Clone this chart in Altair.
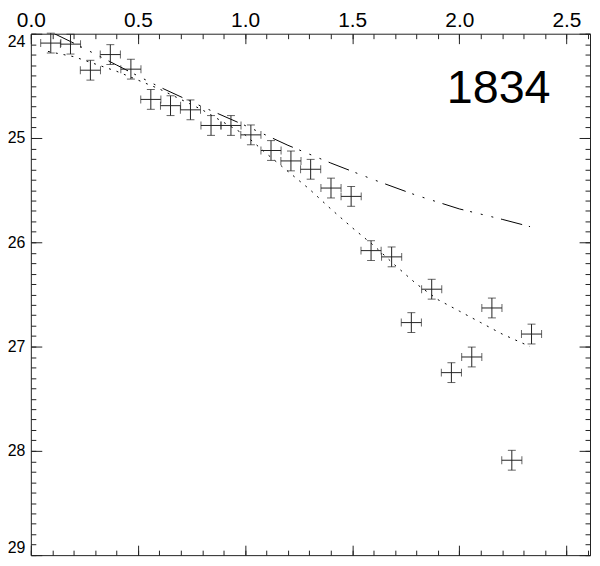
import altair as alt
import pandas as pd

# ---- data ----
radius = [0.093, 0.185, 0.278, 0.371, 0.467, 0.560, 0.652, 0.745, 0.841, 0.934,
          1.027, 1.121, 1.214, 1.306, 1.401, 1.495, 1.588, 1.684, 1.776, 1.871,
          1.963, 2.058, 2.152, 2.245, 2.337]
mag = [24.09, 24.10, 24.35, 24.20, 24.34, 24.63, 24.69, 24.73, 24.88, 24.88,
       24.97, 25.12, 25.22, 25.30, 25.48, 25.56, 26.08, 26.14, 26.77, 26.45,
       27.25, 27.10, 26.63, 28.09, 26.88]
r_err = [0.047, 0.047, 0.047, 0.047, 0.047, 0.047, 0.047, 0.047, 0.047, 0.047,
         0.047, 0.047, 0.047, 0.047, 0.047, 0.047, 0.047, 0.047, 0.047, 0.047,
         0.047, 0.047, 0.047, 0.047, 0.047]
mag_err = [0.095, 0.095, 0.095, 0.095, 0.095, 0.095, 0.095, 0.095, 0.095, 0.095,
           0.095, 0.095, 0.095, 0.095, 0.095, 0.095, 0.095, 0.095, 0.095, 0.095,
           0.095, 0.095, 0.095, 0.095, 0.095]

# model 1 (dash-dot-dot line)
m1_r = [0.11, 0.2, 0.4, 0.6, 0.8, 1.0, 1.2, 1.4, 1.6, 1.8, 2.0, 2.2, 2.33]
m1_mag = [24.00, 24.09, 24.30, 24.51, 24.70, 24.88, 25.07, 25.24, 25.40, 25.55,
          25.68, 25.78, 25.85]

# model 2 (dotted line)
m2_r = [0.08, 0.2, 0.4, 0.6, 0.8, 1.0, 1.1, 1.2, 1.3, 1.4, 1.5, 1.6, 1.7, 1.8,
        1.9, 2.0, 2.1, 2.2, 2.33]
m2_mag = [24.17, 24.22, 24.36, 24.53, 24.73, 24.97, 25.15, 25.32, 25.49, 25.68,
          25.86, 26.03, 26.22, 26.40, 26.55, 26.66, 26.77, 26.88, 27.00]

label_text = "1834"

x_major = [0.0, 0.5, 1.0, 1.5, 2.0, 2.5]
x_minor = [0.0, 0.1, 0.2, 0.3, 0.4, 0.5, 0.6, 0.7, 0.8, 0.9, 1.0, 1.1, 1.2, 1.3,
           1.4, 1.5, 1.6, 1.7, 1.8, 1.9, 2.0, 2.1, 2.2, 2.3, 2.4, 2.5, 2.6]
y_major = [24, 25, 26, 27, 28, 29]
y_minor = [24.0, 24.1, 24.2, 24.3, 24.4, 24.5, 24.6, 24.7, 24.8, 24.9,
           25.0, 25.1, 25.2, 25.3, 25.4, 25.5, 25.6, 25.7, 25.8, 25.9,
           26.0, 26.1, 26.2, 26.3, 26.4, 26.5, 26.6, 26.7, 26.8, 26.9,
           27.0, 27.1, 27.2, 27.3, 27.4, 27.5, 27.6, 27.7, 27.8, 27.9,
           28.0, 28.1, 28.2, 28.3, 28.4, 28.5, 28.6, 28.7, 28.8, 28.9, 29.0]

W, H = 563, 525
INK = "#222222"
FONT = "Liberation Sans"

pts = pd.DataFrame({"r": radius, "mag": mag, "rerr": r_err, "merr": mag_err})
pts["r_lo"] = pts["r"] - pts["rerr"]
pts["r_hi"] = pts["r"] + pts["rerr"]
pts["m_lo"] = pts["mag"] - pts["merr"]
pts["m_hi"] = pts["mag"] + pts["merr"]

m1 = pd.DataFrame({"r": m1_r, "mag": m1_mag})
m2 = pd.DataFrame({"r": m2_r, "mag": m2_mag})

xs = alt.Scale(domain=[0, 2.61], nice=False, zero=False)
ys = alt.Scale(domain=[24, 29], reverse=True, nice=False, zero=False)

base = alt.Chart(pts)

hbar = base.mark_rule(color=INK, strokeWidth=1).encode(
    x=alt.X("r_lo:Q", scale=xs, axis=None), x2="r_hi:Q",
    y=alt.Y("mag:Q", scale=ys, axis=None))
vbar = base.mark_rule(color=INK, strokeWidth=1).encode(
    x=alt.X("r:Q", scale=xs, axis=None),
    y=alt.Y("m_lo:Q", scale=ys, axis=None), y2="m_hi:Q")
cap_l = base.mark_tick(color=INK, orient="vertical", size=8, thickness=1).encode(
    x=alt.X("r_lo:Q", scale=xs, axis=None), y=alt.Y("mag:Q", scale=ys, axis=None))
cap_r = base.mark_tick(color=INK, orient="vertical", size=8, thickness=1).encode(
    x=alt.X("r_hi:Q", scale=xs, axis=None), y=alt.Y("mag:Q", scale=ys, axis=None))
cap_t = base.mark_tick(color=INK, orient="horizontal", size=8, thickness=1).encode(
    x=alt.X("r:Q", scale=xs, axis=None), y=alt.Y("m_lo:Q", scale=ys, axis=None))
cap_b = base.mark_tick(color=INK, orient="horizontal", size=8, thickness=1).encode(
    x=alt.X("r:Q", scale=xs, axis=None), y=alt.Y("m_hi:Q", scale=ys, axis=None))

line1 = alt.Chart(m1).mark_line(color="black", strokeWidth=1, clip=True,
                                strokeDash=[22, 7, 2, 9, 2, 9, 2, 8]).encode(
    x=alt.X("r:Q", scale=xs, axis=None), y=alt.Y("mag:Q", scale=ys, axis=None),
    order="r:Q")
line2 = alt.Chart(m2).mark_line(color="black", strokeWidth=1, clip=True,
                                strokeDash=[2, 6]).encode(
    x=alt.X("r:Q", scale=xs, axis=None), y=alt.Y("mag:Q", scale=ys, axis=None),
    order="r:Q")

txt = alt.Chart(pd.DataFrame({"t": [label_text]})).mark_text(
    font=FONT, fontSize=47, color="black", align="center", baseline="alphabetic"
).encode(x=alt.value(471), y=alt.value(70), text="t:N")


def axis_layer(xaxis, yaxis):
    return base.mark_point(opacity=0).encode(
        x=alt.X("r:Q", scale=xs, axis=xaxis),
        y=alt.Y("mag:Q", scale=ys, axis=yaxis))


common = dict(grid=False, title=None, domain=False)
tick_common = dict(labels=False, ticks=True, tickColor=INK, tickWidth=1, **common)

lab_layer = axis_layer(
    alt.Axis(orient="top", values=x_major, format=".1f", ticks=False, tickSize=0,
             labelFont=FONT, labelFontSize=21, labelColor="black", labelPadding=3,
             labelFlush=False, labelOverlap=False, **common),
    alt.Axis(orient="left", values=y_major, format="d", ticks=False, tickSize=0,
             labelFont=FONT, labelFontSize=16, labelColor="black", labelPadding=6,
             labelFlush=True, labelOverlap=False, **common))
maj_in1 = axis_layer(
    alt.Axis(orient="bottom", offset=-H, values=x_major, tickSize=10, **tick_common),
    alt.Axis(orient="right", offset=-W, values=y_major, tickSize=11, **tick_common))
min_in1 = axis_layer(
    alt.Axis(orient="bottom", offset=-H, values=x_minor, tickSize=5, **tick_common),
    alt.Axis(orient="right", offset=-W, values=y_minor, tickSize=5, **tick_common))
maj_in2 = axis_layer(
    alt.Axis(orient="top", offset=-H, values=x_major, tickSize=10, **tick_common),
    alt.Axis(orient="left", offset=-W, values=y_major, tickSize=11, **tick_common))
min_in2 = axis_layer(
    alt.Axis(orient="top", offset=-H, values=x_minor, tickSize=5, **tick_common),
    alt.Axis(orient="left", offset=-W, values=y_minor, tickSize=5, **tick_common))

chart = alt.layer(
    lab_layer, maj_in1, min_in1, maj_in2, min_in2,
    line1, line2, hbar, vbar, cap_l, cap_r, cap_t, cap_b, txt
).resolve_axis(x="independent", y="independent").properties(
    width=W, height=H,
    autosize=alt.AutoSizeParams(type="none"),
    padding={"left": 23, "top": 24, "right": 2, "bottom": 1},
    background="white",
).configure_view(stroke=INK, strokeWidth=1)

chart.save("out.html", embed_options={"renderer": "svg", "actions": False})
